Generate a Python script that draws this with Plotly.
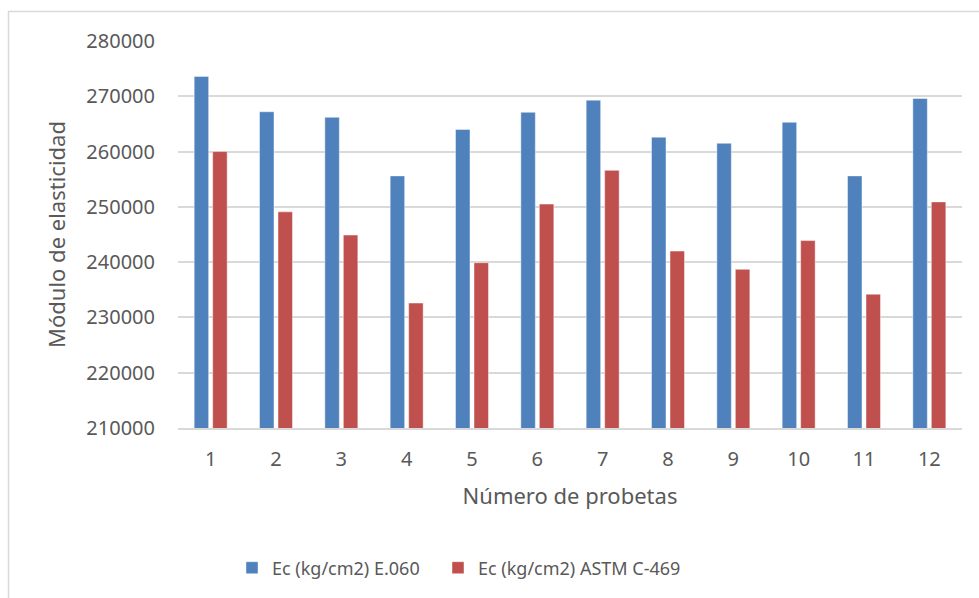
import plotly.graph_objects as go

categories = [str(i) for i in range(1, 13)]
ec_e060 = [273600, 267200, 266200, 255600, 264000, 267100, 269300, 262600, 261500, 265300, 255600, 269600]
ec_astm = [260000, 249100, 244900, 232600, 239900, 250500, 256600, 242000, 238700, 243900, 234200, 250900]
series_names = ["Ec (kg/cm2) E.060", "Ec (kg/cm2) ASTM C-469"]
y_ticks = [210000, 220000, 230000, 240000, 250000, 260000, 270000, 280000]

FONT = "Noto Sans"
TXT = "#595959"
W, H = 979, 598
L, R, T, B = 178, 17, 41, 170
pw, ph = W - L - R, H - T - B

fig = go.Figure()
fig.add_trace(go.Bar(x=categories, y=ec_e060, name=series_names[0], legend="legend",
                     marker=dict(color="#4F81BD", line=dict(color="rgba(255,255,255,0.45)", width=1))))
fig.add_trace(go.Bar(x=categories, y=ec_astm, name=series_names[1], legend="legend2",
                     marker=dict(color="#C0504D", line=dict(color="rgba(255,255,255,0.45)", width=1))))

leg_common = dict(orientation="h", xanchor="left", y=(T + ph - 568) / ph, yanchor="middle",
                  font=dict(size=18, color=TXT), itemwidth=30, bgcolor="rgba(0,0,0,0)")

fig.update_layout(
    width=W, height=H,
    margin=dict(l=L, r=R, t=T, b=B, pad=0),
    paper_bgcolor="white", plot_bgcolor="white",
    barmode="group", bargap=0.434, bargroupgap=0.216,
    font=dict(family=FONT, color=TXT),
    showlegend=True,
    legend=dict(x=(232 - L) / pw, **leg_common),
    legend2=dict(x=(438 - L) / pw, **leg_common),
    shapes=[dict(type="rect", xref="paper", yref="paper",
                 x0=(8.5 - L) / pw, x1=1.2, y0=-0.6, y1=(T + ph - 11.5) / ph,
                 line=dict(color="#D9D9D9", width=1.5), fillcolor="rgba(0,0,0,0)", layer="below")],
)
fig.update_xaxes(
    type="category", showgrid=False, showline=True, linecolor="#D9D9D9", linewidth=1.5,
    ticks="", tickfont=dict(size=20, color=TXT), ticklabelstandoff=12,
    title=dict(text="Número de probetas", font=dict(size=22, color=TXT), standoff=18),
)
fig.update_yaxes(
    range=[210000, 280000], tickvals=y_ticks, ticktext=[str(v) for v in y_ticks],
    showgrid=True, gridcolor="#D9D9D9", gridwidth=1.5, zeroline=False, showline=False,
    ticks="", tickfont=dict(size=20, color=TXT), ticklabelstandoff=22,
    title=dict(text="Módulo de elasticidad", font=dict(size=22, color=TXT), standoff=14),
)

fig.write_html("out.html")
